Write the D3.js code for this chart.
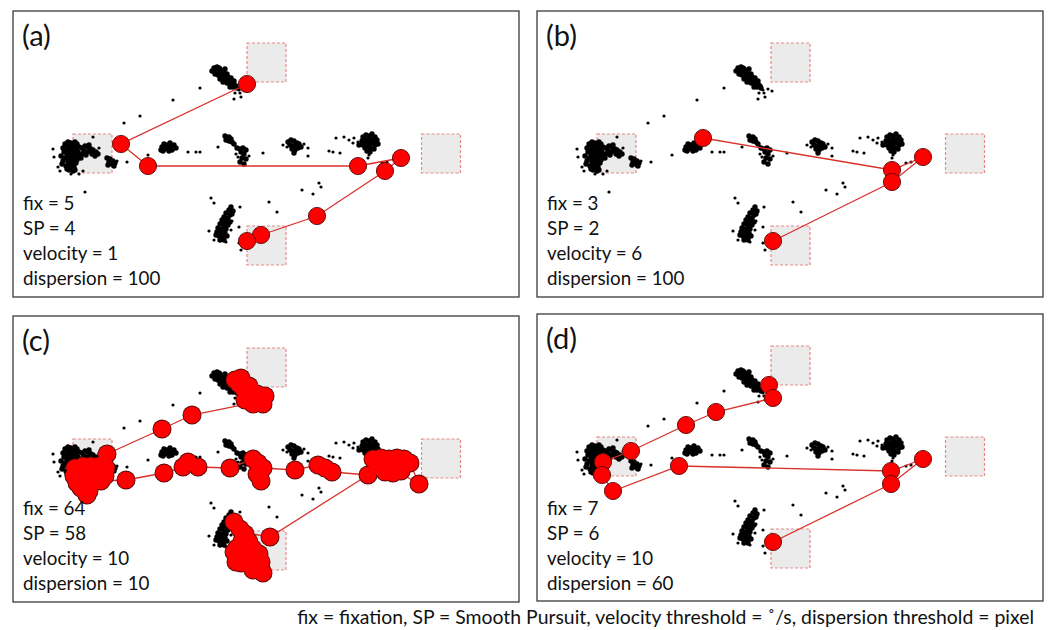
<!DOCTYPE html>
<html><head><meta charset="utf-8">
<script src="https://cdn.jsdelivr.net/npm/d3@7"></script>
<style>body{margin:0;background:#fff}svg{display:block}</style>
</head><body>
<script>
// ---- data (stimulus coordinates, 506 x 286 frame) ----
const panelLabels = ["(a)", "(b)", "(c)", "(d)"];
const fixCounts = [5, 3, 64, 7];
const spCounts = [4, 2, 58, 6];
const velocityThr = [1, 6, 10, 10];
const dispersionThr = [100, 100, 10, 60];
const caption = "fix = fixation, SP = Smooth Pursuit, velocity threshold = ˚/s, dispersion threshold = pixel";

const aoiCenters = [[253.5, 51.5], [79.5, 142.5], [428, 142.5], [253.5, 234.5]];
const aoiSize = 39;

// raw gaze samples inside dense clusters
const gazeCore = [
 // left cluster
 [52,133],[55,131],[58,132],[61,134],[64,133],[56,136],[60,137],[63,138],[66,136],[53,139],[57,140],[61,141],[65,141],[54,143],[58,144],[62,145],[66,144],[52,147],[56,148],[60,148],[64,149],[55,151],[59,152],[63,152],[53,155],[57,156],[61,156],[56,159],[60,160],[50,150],[48,145],[51,141],
 [54,134],[59,135],[62,131],[55,146],[59,146],[63,147],[57,153],[54,158],[58,157],[50,137],[49,153],[62,159],
 [69,137],[72,135],[75,136],[78,138],[71,140],[74,141],[77,140],[80,139],[83,141],[85,143],[82,145],[69,143],[73,144],[68,147],[76,134],[79,143],
 [94,147],[97,148],[100,150],[96,151],[99,153],[102,152],[95,154],[101,155],
 // top cluster
 [201,57],[204,56],[207,58],[203,60],[206,61],[209,60],[211,62],[205,64],[208,65],[212,65],[215,66],[210,68],[213,69],[216,70],[219,70],[214,72],[218,73],[221,73],[223,75],[217,76],[220,76],[224,77],[210,71],[207,68],[199,60],[212,58],
 [202,63],[206,57],[209,63],[214,63],[218,67],[221,70],
 // middle row blobs
 [149,136],[151,133],[154,134],[157,132],[152,138],[155,137],[158,136],[161,134],[150,140],[156,140],[159,139],[163,137],[148,139],
 [212,125],[214,127],[216,126],[213,129],[216,130],[219,131],[221,133],[218,128],
 [224,137],[227,138],[230,137],[233,139],[228,141],[231,143],[229,147],[233,148],[227,151],[231,153],
 [275,131],[278,129],[281,130],[284,132],[277,134],[280,135],[283,134],[286,133],[279,138],[282,139],[285,137],[288,136],[281,142],
 [350,126],[353,124],[356,125],[359,123],[362,126],[349,130],[352,129],[355,129],[358,128],[361,130],[364,129],[350,134],[353,133],[356,133],[359,132],[362,134],[352,137],[355,137],[358,137],[361,138],[354,140],[357,141],[346,134],[365,133],
 // bottom cluster
 [218,196],[216,199],[220,200],[213,202],[217,204],[211,206],[215,207],[209,209],[213,210],[217,211],[207,213],[211,214],[215,214],[205,217],[209,218],[213,218],[204,221],[208,222],[212,222],[206,225],[210,226],[203,224],[214,225],
 [219,203],[214,212],[211,211],[207,219],[210,220],[207,229],[211,229]
];
// isolated raw gaze samples
const gazeSparse = [
 [86,137],[40,138],[41,146],[45,156],[47,160],[58,163],[66,163],[70,160],[80,126],[72,181],[114,151],[104,150],
 [111,112],[127,105],[160,89],[187,77],[135,144],
 [222,82],[227,82],[231,78],[235,80],[221,88],[226,79],[228,86],
 [175,141],[183,141],[187,141],[205,136],[225,146],[236,145],[223,143],
 [250,142],[270,134],[291,133],[295,137],[295,145],[274,136],
 [316,140],[320,141],[327,142],
 [323,127],[331,126],[341,127],[345,131],[340,132],[336,129],
 [355,147],[369,152],[374,151],[356,144],
 [289,179],[306,172],[308,176],[300,183],[256,191],[264,201],
 [198,187],[201,192],[227,196],[226,216],[196,220],[201,229],[213,231],[226,232],[228,239],[218,219],[219,210]
];

const fixA = [[234,73],[108,133],[135,155],[345,155],[388,147],[372,160],[304,205],[248,224],[234,230]];
const fixB = [[166,127],[355,159],[386,146],[355,171],[236,230]];
const fixC = [
 // top blob
 [222,64],[228,62],[226,68],[230,72],[236,70],[234,76],[238,80],[244,78],[242,83],[246,86],[250,88],[240,88],[232,84],[252,80],
 [179,99],[149,113],[94,138],
 // left blob
 [62,152],[70,150],[78,150],[86,150],[93,152],[61,160],[69,158],[77,158],[85,158],[92,160],[64,167],[72,166],[80,166],[88,165],[68,172],[76,175],[74,179],
 // middle row
 [113,164],[151,157],[170,151],[175,146],[185,151],[217,152],[240,143],[245,147],[244,158],[250,152],[248,165],[282,154],[305,149],[312,152],[319,156],[355,159],
 // right blob
 [360,143],[368,142],[376,143],[384,142],[391,143],[366,150],[374,150],[382,150],[390,150],[372,156],[380,157],[388,155],[397,147],[406,168],
 // bottom blob
 [221,206],[227,213],[232,218],[229,225],[236,226],[224,232],[232,233],[240,233],[225,240],[233,240],[242,240],[228,247],[236,248],[244,249],[240,254],[250,257],[257,221],
 [221,236],[223,246],[246,238],[248,246]
];
// path order for the connecting line in (c)
const pathC = [[244,86],[179,99],[149,113],[94,138],[74,152],[64,166],[113,164],[151,157],[170,151],[185,151],[217,152],[240,143],[250,152],[282,154],[305,149],[319,156],[355,159],[375,142],[397,147],[406,168],[375,150],[355,159],[257,221],[234,217],[237,252]];
const fixD = [[232,71],[236,84],[179,98],[149,111],[94,137],[66,148],[65,161],[76,177],[142,152],[354,157],[386,145],[354,170],[236,228]];

const fixations = [fixA, fixB, fixC, fixD];
const paths = [fixA, fixB, pathC, fixD];
const mergedBlobs = [false, false, true, false];

// ---- layout ----
const W = 1049, H = 630;
const boxW = 506, boxH = 286;
const origins = [[13, 11], [537, 11], [13, 316], [537, 314]];

const svg = d3.select("body").append("svg").attr("width", W).attr("height", H);
const font = "Lato, 'Open Sans', sans-serif";

const x = d3.scaleLinear().domain([0, 506]).range([0, boxW]);
const y = d3.scaleLinear().domain([0, 286]).range([0, boxH]);
const line = d3.line().x(d => x(d[0])).y(d => y(d[1]));
const R = 8.6;

panelLabels.forEach((lab, i) => {
  const g = svg.append("g").attr("transform", `translate(${origins[i][0]},${origins[i][1]})`);
  g.append("rect").attr("x", 0).attr("y", 0).attr("width", boxW).attr("height", i === 3 ? boxH + 1 : boxH)
    .attr("fill", "#fff").attr("stroke", "#3a3a3a").attr("stroke-width", 1.3);

  g.selectAll("rect.aoi").data(aoiCenters).join("rect").attr("class", "aoi")
    .attr("x", d => x(d[0] - aoiSize / 2)).attr("y", d => y(d[1] - aoiSize / 2))
    .attr("width", x(aoiSize) - x(0)).attr("height", y(aoiSize) - y(0))
    .attr("fill", "#ebebeb").attr("stroke", "#e88a8a").attr("stroke-width", 1.2)
    .attr("stroke-dasharray", "3,2");

  g.selectAll("circle.gc").data(gazeCore).join("circle").attr("class", "gc")
    .attr("cx", d => x(d[0])).attr("cy", d => y(d[1])).attr("r", 2.7).attr("fill", "#000");
  g.selectAll("circle.gs").data(gazeSparse).join("circle").attr("class", "gs")
    .attr("cx", d => x(d[0])).attr("cy", d => y(d[1])).attr("r", 1.6).attr("fill", "#000");

  g.append("path").attr("d", line(paths[i])).attr("fill", "none")
    .attr("stroke", "#d9302a").attr("stroke-width", 1.3);

  if (mergedBlobs[i]) {
    g.selectAll("circle.fo").data(fixations[i]).join("circle").attr("class", "fo")
      .attr("cx", d => x(d[0])).attr("cy", d => y(d[1])).attr("r", R + 0.9)
      .attr("fill", "#5a0a0a");
    g.selectAll("circle.f").data(fixations[i]).join("circle").attr("class", "f")
      .attr("cx", d => x(d[0])).attr("cy", d => y(d[1])).attr("r", R)
      .attr("fill", "#ff0000");
  } else {
    g.selectAll("circle.f").data(fixations[i]).join("circle").attr("class", "f")
      .attr("cx", d => x(d[0])).attr("cy", d => y(d[1])).attr("r", R)
      .attr("fill", "#ff0000").attr("stroke", "#5a0a0a").attr("stroke-width", 0.9);
  }

  g.append("text").attr("x", 9).attr("y", 35).attr("font-family", font)
    .attr("font-size", 29).attr("fill", "#111").text(lab);

  const lines = [`fix = ${fixCounts[i]}`, `SP = ${spCounts[i]}`, `velocity = ${velocityThr[i]}`, `dispersion = ${dispersionThr[i]}`];
  g.selectAll("text.s").data(lines).join("text").attr("class", "s")
    .attr("x", 10).attr("y", (d, k) => (i === 3 ? 201 : 199) + k * 25)
    .attr("font-family", font).attr("font-size", 18.8).attr("fill", "#111").text(d => d);
});

svg.append("text").attr("x", 1034).attr("y", 624).attr("text-anchor", "end")
  .attr("font-family", font).attr("font-size", 19.4).attr("fill", "#111").text(caption);
</script>
</body></html>
